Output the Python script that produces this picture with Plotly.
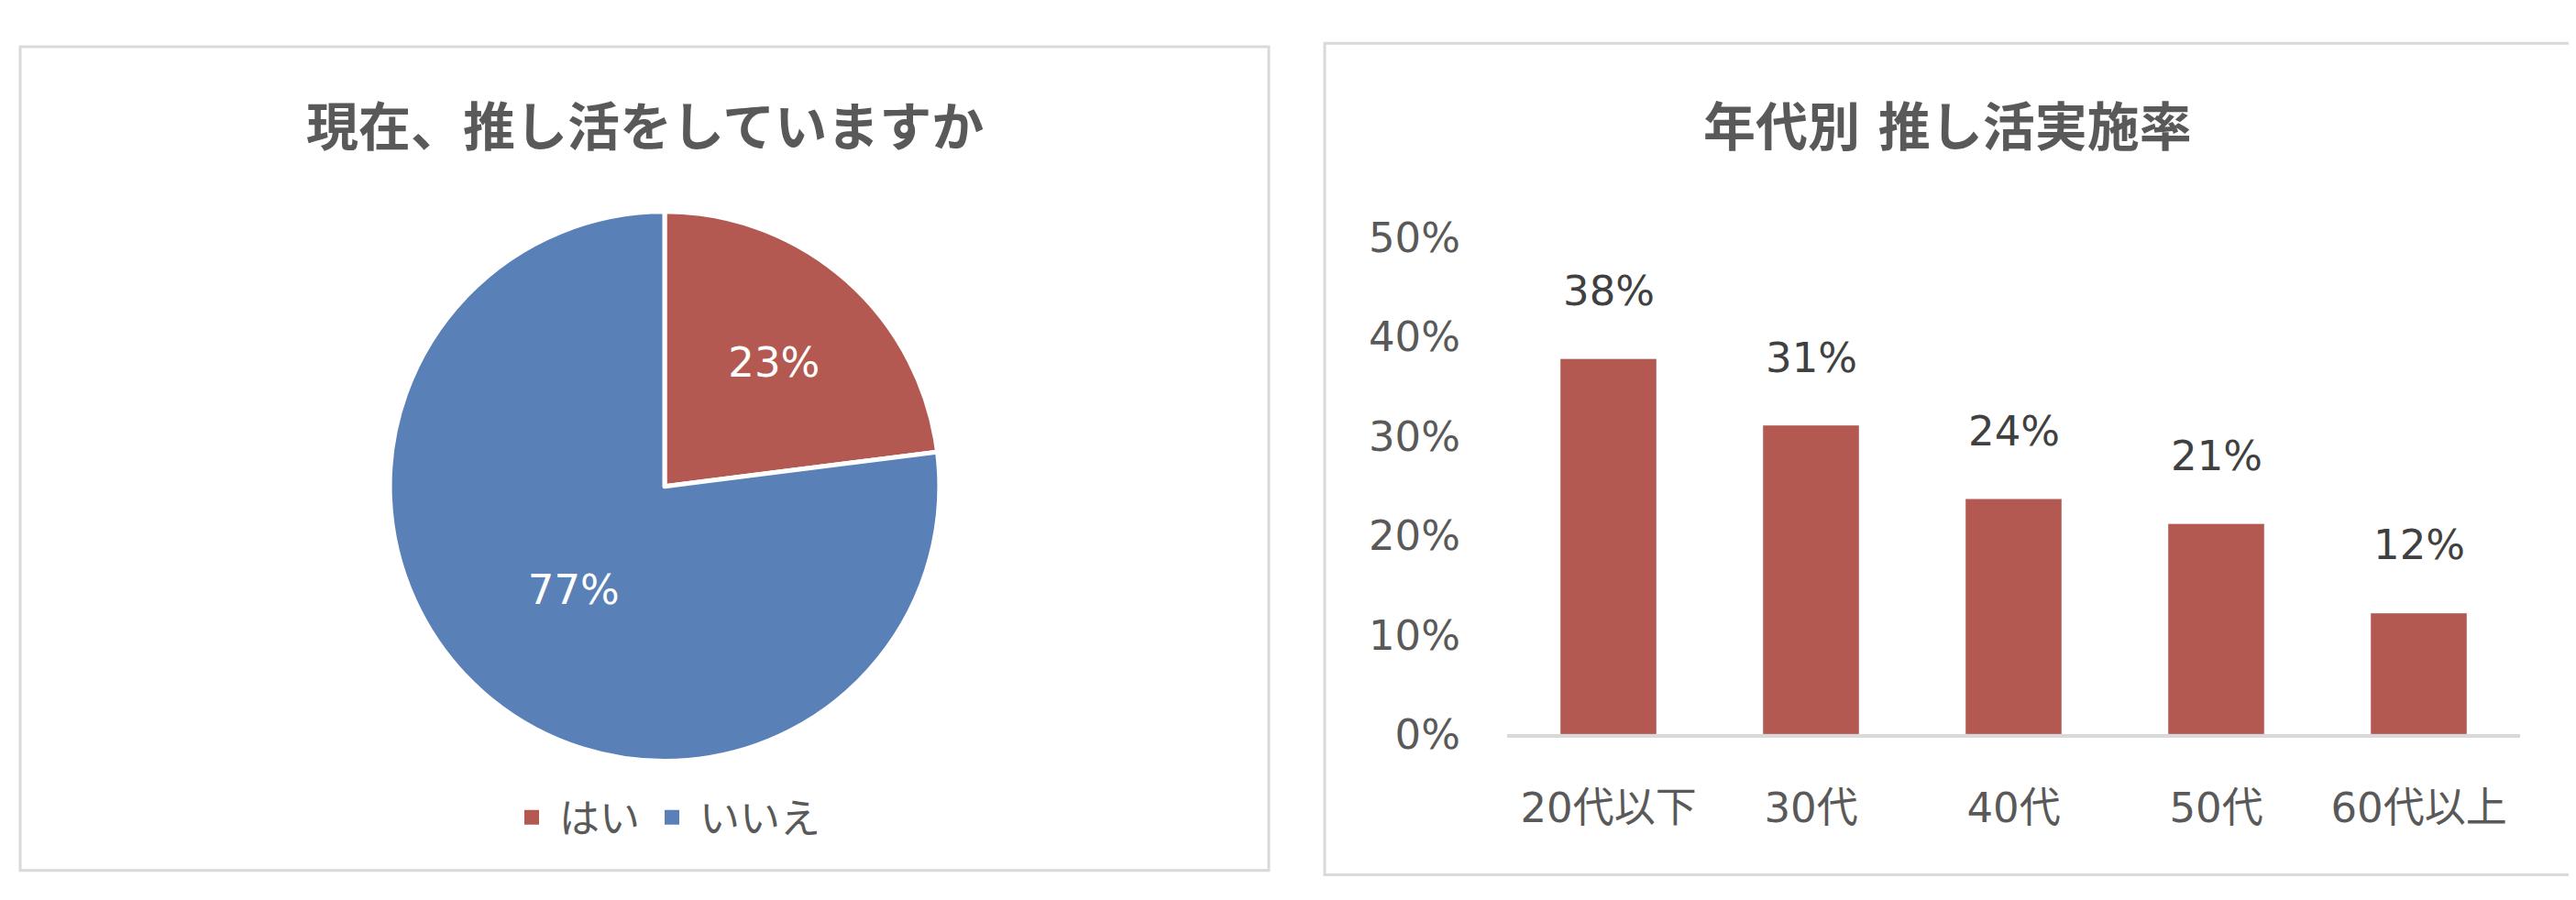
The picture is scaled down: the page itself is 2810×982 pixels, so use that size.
import plotly.graph_objects as go

# pie: 現在、推し活をしていますか
pie_labels = ["はい", "いいえ"]
pie_values = [0.23, 0.77]

# bar: 年代別 推し活実施率
age_groups = ["20代以下", "30代", "40代", "50代", "60代以上"]
rates = [0.378, 0.311, 0.237, 0.212, 0.122]

RED = "#B35951"
BLUE = "#5A80B8"
GRAY = "#595959"
FONT = "DejaVu Sans, Noto Sans CJK JP, sans-serif"
W, H = 2810, 982


def px(x):
    return x / W


def py(y):
    return 1 - y / H


fig = go.Figure()

r = 317
fig.add_pie(
    labels=pie_labels,
    values=pie_values,
    sort=False,
    direction="clockwise",
    rotation=0,
    marker=dict(colors=[RED, BLUE], line=dict(color="white", width=5)),
    texttemplate="%{percent:.0%}",
    textposition="inside",
    insidetextorientation="horizontal",
    insidetextfont=dict(color="white", size=45, family=FONT),
    domain=dict(x=[px(717 - r), px(717 + r)], y=[py(525 + r), py(525 - r)]),
    showlegend=False,
)

fig.add_bar(
    x=age_groups,
    y=rates,
    marker_color=RED,
    showlegend=False,
)

# legend entries for the pie (bigger square swatches than the pie legend gives)
for name, col in zip(pie_labels, [RED, BLUE]):
    fig.add_scatter(
        x=[None], y=[None], mode="markers", name=name,
        xaxis="x2", yaxis="y2",
        marker=dict(symbol="square", size=22, color=col),
    )

# data labels above bars
for cat, val in zip(age_groups, rates):
    fig.add_annotation(
        x=cat, y=val, xref="x", yref="y",
        text=f"{val:.0%}", showarrow=False,
        xanchor="center", yanchor="middle", yshift=74,
        font=dict(size=45, color="#404040", family=FONT),
    )

# chart titles
for cx, title in [(695, "現在、推し活をしていますか"), (2116, "年代別 推し活実施率")]:
    fig.add_annotation(
        x=px(cx), y=py(111), xref="paper", yref="paper",
        text=f"<b>{title}</b>", showarrow=False,
        xanchor="center", yanchor="middle",
        font=dict(size=57, color=GRAY, family=FONT),
    )

# panel frames
for x0, y0, x1, y1 in [(14, 18, 1376, 968), (1437, 14, 2796, 973)]:
    fig.add_shape(
        type="rect", xref="paper", yref="paper",
        x0=px(x0), x1=px(x1), y0=py(y1), y1=py(y0),
        line=dict(color="#D9D9D9", width=3), fillcolor="rgba(0,0,0,0)",
    )

fig.update_layout(
    width=W,
    height=H,
    margin=dict(l=0, r=0, t=0, b=0),
    paper_bgcolor="white",
    plot_bgcolor="white",
    font=dict(family=FONT, color=GRAY, size=45),
    bargap=0.525,
    showlegend=True,
    legend=dict(
        orientation="h",
        x=px(717), xanchor="center",
        y=py(907), yanchor="middle",
        font=dict(size=44, color=GRAY, family=FONT),
        itemwidth=50,
    ),
    xaxis=dict(
        type="category",
        domain=[px(1636), px(2741)],
        anchor="y",
        showgrid=False,
        showline=True,
        linecolor="#D9D9D9",
        linewidth=4,
        ticks="",
        ticklabelstandoff=38,
        tickfont=dict(size=45, color=GRAY),
    ),
    yaxis=dict(
        domain=[py(811), py(238)],
        anchor="x",
        range=[0, 0.5],
        dtick=0.1,
        tickformat=".0%",
        showgrid=False,
        zeroline=False,
        showline=False,
        ticks="",
        ticklabelstandoff=50,
        tickfont=dict(size=45, color=GRAY),
    ),
    xaxis2=dict(domain=[0, 0.01], anchor="y2", visible=False),
    yaxis2=dict(domain=[0, 0.01], anchor="x2", visible=False),
)

fig.write_html("out.html")
